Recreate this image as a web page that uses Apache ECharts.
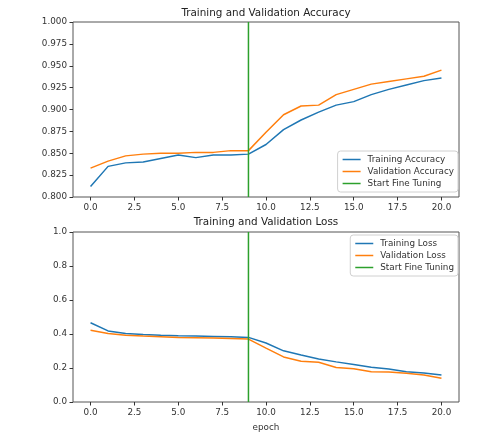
<!DOCTYPE html>
<html>
<head>
<meta charset="utf-8">
<script src="https://cdn.jsdelivr.net/npm/echarts@6/dist/echarts.min.js"></script>
<style>
html,body{margin:0;padding:0;background:#fff;}
#sep{position:absolute;left:13px;top:6px;width:475px;height:1px;background:#e6e6e6;}
#chart{width:488px;height:433px;}
</style>
</head>
<body>
<div id="sep"></div>
<div id="chart"></div>
<script>
const epochs = [0,1,2,3,4,5,6,7,8,9,10,11,12,13,14,15,16,17,18,19,20];
const trainAcc = [0.812,0.835,0.839,0.840,0.844,0.848,0.845,0.848,0.848,0.849,0.860,0.877,0.888,0.897,0.905,0.909,0.917,0.923,0.928,0.933,0.936];
const valAcc = [0.833,0.841,0.847,0.849,0.850,0.850,0.851,0.851,0.853,0.853,0.874,0.894,0.904,0.905,0.917,0.923,0.929,0.932,0.935,0.938,0.945];
const trainLoss = [0.466,0.418,0.403,0.397,0.393,0.390,0.388,0.386,0.384,0.380,0.347,0.301,0.276,0.253,0.236,0.221,0.205,0.194,0.178,0.171,0.159];
const valLoss = [0.422,0.403,0.393,0.388,0.384,0.380,0.378,0.376,0.374,0.370,0.317,0.265,0.240,0.234,0.203,0.196,0.178,0.177,0.169,0.159,0.140];
const fineTuneEpoch = 9;
const accRange = [0.8, 1.0];
const lossRange = [0.0, 1.0];
const xTicks = [0,2.5,5,7.5,10,12.5,15,17.5,20];

const FONT = 'DejaVu Sans';
const FS = 8.8;
const C_BLUE = '#1f77b4', C_ORANGE = '#ff7f0e', C_GREEN = '#2ca02c';

function pairs(ys){ return epochs.map((e,i)=>[e, ys[i]]); }

function xAxis(gi, showName){
  return {
    type:'value', gridIndex:gi, min:-1, max:21,
    axisLine:{show:false, onZero:false},
    splitLine:{show:false},
    axisTick:{show:true, customValues:xTicks, length:3.5, lineStyle:{color:'#333', width:1}},
    axisLabel:{customValues:xTicks, formatter:v=>v.toFixed(1), color:'#333', fontFamily:FONT, fontSize:FS, margin:6},
    name: showName ? 'epoch' : '', nameLocation:'middle', nameGap:21,
    nameTextStyle:{color:'#333', fontFamily:FONT, fontSize:FS}
  };
}
function yAxis(gi, range, interval, dec){
  return {
    type:'value', gridIndex:gi, min:range[0], max:range[1], interval:interval,
    axisLine:{show:false, onZero:false},
    splitLine:{show:false},
    axisTick:{show:true, length:3.5, lineStyle:{color:'#333', width:1}},
    axisLabel:{formatter:v=>v.toFixed(dec), color:'#333', fontFamily:FONT, fontSize:FS, margin:6}
  };
}
function line(name, data, color, gi){
  return {type:'line', name:name, xAxisIndex:gi, yAxisIndex:gi, data:data, symbol:'none',
    lineStyle:{color:color, width:1.5}, itemStyle:{color:color}};
}
function legend(names, top){
  return {data:names, orient:'vertical', right:30, top:top, icon:'rect', itemWidth:18, itemHeight:1.5, itemGap:3,
    padding:[4,4,4,5], backgroundColor:'rgba(255,255,255,0.9)', borderColor:'#d0d0d0', borderWidth:1, borderRadius:3,
    textStyle:{fontFamily:FONT, fontSize:FS, color:'#333', padding:[0,0,0,2]}, selectedMode:false};
}

const chart = echarts.init(document.getElementById('chart'), null, {renderer:'canvas'});
chart.setOption({
  animation:false,
  backgroundColor:'#fff',
  title:[
    {text:'Training and Validation Accuracy', left:261, top:3.5, textAlign:'center',
     textStyle:{fontFamily:FONT, fontSize:10.4, fontWeight:'normal', color:'#222'}},
    {text:'Training and Validation Loss', left:261, top:212, textAlign:'center',
     textStyle:{fontFamily:FONT, fontSize:10.4, fontWeight:'normal', color:'#222'}}
  ],
  grid:[
    {left:73, top:22, width:386, height:175, show:true, borderColor:'#555', borderWidth:1, backgroundColor:'transparent'},
    {left:73, top:232, width:386, height:174, show:true, borderColor:'#555', borderWidth:1, backgroundColor:'transparent'}
  ],
  xAxis:[xAxis(0,false), xAxis(1,true)],
  yAxis:[yAxis(0, accRange, 0.025, 3), yAxis(1, lossRange, 0.2, 1)],
  legend:[
    legend(['Training Accuracy','Validation Accuracy','Start Fine Tuning'], 151),
    legend(['Training Loss','Validation Loss','Start Fine Tuning'], 235)
  ],
  series:[
    line('Training Accuracy', pairs(trainAcc), C_BLUE, 0),
    line('Validation Accuracy', pairs(valAcc), C_ORANGE, 0),
    line('Start Fine Tuning', [[fineTuneEpoch, accRange[0]],[fineTuneEpoch, accRange[1]]], C_GREEN, 0),
    line('Training Loss', pairs(trainLoss), C_BLUE, 1),
    line('Validation Loss', pairs(valLoss), C_ORANGE, 1),
    line('Start Fine Tuning', [[fineTuneEpoch, lossRange[0]],[fineTuneEpoch, lossRange[1]]], C_GREEN, 1)
  ]
});
</script>
</body>
</html>
